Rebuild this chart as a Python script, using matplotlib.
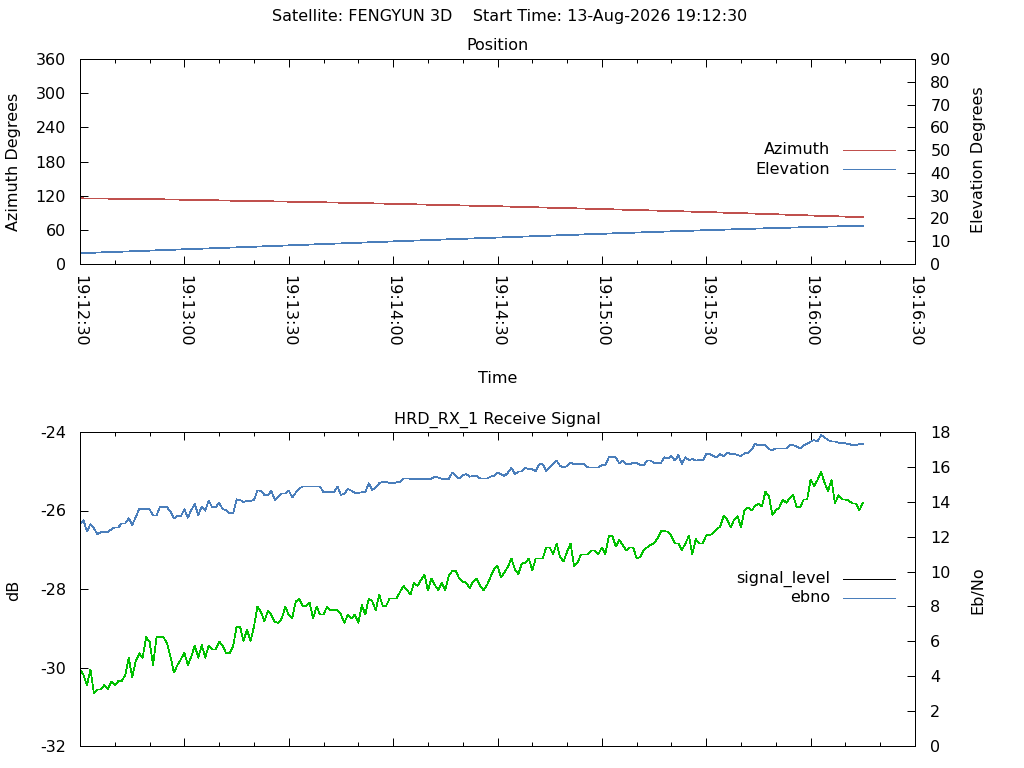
import datetime as dt
import matplotlib
matplotlib.use("Agg")
import matplotlib.pyplot as plt
import matplotlib.dates as mdates
from matplotlib.lines import Line2D

plt.rcParams['font.family'] = ['DejaVu Sans']
plt.rcParams['axes.unicode_minus'] = False

# ---------------- data ----------------
start_time = dt.datetime(2026, 8, 13, 19, 12, 30)

pos_seconds = [0, 15, 30, 45, 60, 75, 90, 105, 120, 135, 150, 165, 180, 195, 210, 225]
azimuth = [115.3, 114.4, 112.9, 111.1, 109.5, 107.7, 105.7, 103.5, 101.4, 98.9,
           96.5, 93.9, 91.2, 88.3, 85.2, 82.2]
elevation = [4.75, 5.59, 6.46, 7.30, 8.17, 9.05, 9.92, 10.79, 11.61, 12.45,
             13.27, 14.08, 14.84, 15.58, 16.22, 16.80]

# one sample per second from start time
signal_level = [
    -30.05, -30.19, -30.45, -30.05, -30.66, -30.56, -30.56, -30.45, -30.55, -30.36,
    -30.45, -30.35, -30.35, -30.19, -29.75, -30.25, -29.85, -29.64, -29.75, -29.23,
    -29.34, -29.94, -29.23, -29.23, -29.23, -29.38, -29.72, -30.13, -29.94, -29.79,
    -29.62, -29.94, -29.72, -29.44, -29.75, -29.43, -29.75, -29.44, -29.54, -29.54,
    -29.34, -29.44, -29.64, -29.64, -29.47, -28.96, -28.96, -29.32, -29.04, -29.32,
    -28.96, -28.45, -28.58, -28.83, -28.55, -28.66, -28.84, -28.86, -28.75, -28.45,
    -28.66, -28.75, -28.32, -28.25, -28.43, -28.43, -28.35, -28.75, -28.45, -28.65,
    -28.65, -28.45, -28.54, -28.54, -28.54, -28.65, -28.86, -28.65, -28.75, -28.65,
    -28.86, -28.41, -28.65, -28.24, -28.32, -28.54, -28.14, -28.43, -28.43, -28.24,
    -28.24, -28.24, -28.07, -27.92, -28.03, -28.14, -27.84, -27.92, -27.77, -27.63,
    -28.04, -27.73, -27.90, -28.03, -27.84, -28.03, -27.66, -27.54, -27.54, -27.73,
    -27.81, -27.84, -27.98, -27.81, -27.73, -27.92, -28.03, -27.90, -27.69, -27.50,
    -27.41, -27.70, -27.58, -27.43, -27.22, -27.50, -27.62, -27.35, -27.33, -27.22,
    -27.52, -27.22, -27.22, -27.22, -26.94, -26.94, -27.11, -26.84, -27.19, -27.30,
    -27.05, -26.84, -27.41, -27.33, -27.12, -27.12, -27.12, -27.02, -27.02, -27.11,
    -26.94, -27.11, -26.65, -26.65, -26.92, -26.75, -26.88, -27.02, -26.94, -26.94,
    -27.22, -27.19, -27.02, -26.94, -26.88, -26.84, -26.71, -26.53, -26.53, -26.54,
    -26.65, -26.84, -26.84, -27.01, -26.84, -26.65, -27.11, -26.73, -26.84, -26.84,
    -26.63, -26.63, -26.58, -26.48, -26.41, -26.14, -26.23, -26.43, -26.24, -26.14,
    -26.43, -25.99, -25.92, -26.00, -25.89, -25.82, -25.90, -25.52, -25.63, -26.11,
    -26.00, -25.92, -25.72, -25.80, -25.69, -25.61, -25.92, -25.92, -25.72, -25.72,
    -25.21, -25.38, -25.22, -25.01, -25.29, -25.50, -25.22, -25.82, -25.61, -25.72,
    -25.72, -25.75, -25.82, -25.82, -26.00, -25.80,
]

ebno = [
    12.71, 12.95, 12.29, 12.72, 12.48, 12.15, 12.25, 12.25, 12.25, 12.42,
    12.53, 12.53, 12.76, 12.76, 13.05, 12.67, 13.11, 13.57, 13.57, 13.57,
    13.57, 13.22, 13.22, 13.72, 13.69, 13.69, 13.43, 13.05, 13.18, 13.18,
    13.57, 13.09, 13.53, 13.87, 13.24, 13.72, 13.49, 14.06, 13.69, 13.69,
    13.95, 13.57, 13.53, 13.34, 13.34, 14.14, 14.10, 13.99, 14.06, 14.06,
    14.10, 14.65, 14.63, 14.39, 14.39, 14.63, 14.10, 14.29, 14.48, 14.48,
    14.64, 14.25, 14.52, 14.77, 14.87, 14.87, 14.87, 14.87, 14.87, 14.87,
    14.54, 14.54, 14.54, 14.54, 14.87, 14.39, 14.48, 14.73, 14.64, 14.52,
    14.52, 14.54, 14.54, 15.06, 14.67, 14.83, 15.06, 15.15, 15.15, 15.06,
    15.06, 15.11, 15.15, 15.34, 15.34, 15.32, 15.29, 15.32, 15.32, 15.32,
    15.32, 15.32, 15.44, 15.38, 15.32, 15.32, 15.32, 15.67, 15.48, 15.34,
    15.52, 15.59, 15.44, 15.48, 15.48, 15.34, 15.34, 15.34, 15.44, 15.48,
    15.67, 15.57, 15.48, 15.67, 15.95, 15.59, 15.73, 15.73, 15.95, 15.86,
    15.86, 15.76, 16.15, 16.15, 15.76, 15.95, 16.15, 16.36, 16.05, 15.97,
    16.05, 16.24, 16.15, 16.15, 16.15, 16.15, 15.97, 15.97, 15.97, 15.97,
    16.11, 16.11, 16.55, 16.55, 16.55, 16.20, 16.36, 16.15, 16.15, 16.24,
    16.24, 16.09, 16.09, 16.36, 16.36, 16.24, 16.24, 16.24, 16.55, 16.49,
    16.62, 16.36, 16.68, 16.17, 16.55, 16.39, 16.45, 16.36, 16.39, 16.36,
    16.74, 16.74, 16.62, 16.55, 16.74, 16.59, 16.83, 16.74, 16.74, 16.68,
    16.62, 16.78, 16.81, 16.97, 17.31, 17.25, 17.25, 17.25, 17.01, 16.97,
    17.06, 17.06, 17.06, 17.06, 17.25, 17.25, 17.16, 17.06, 17.25, 17.31,
    17.45, 17.54, 17.45, 17.83, 17.69, 17.54, 17.45, 17.45, 17.39, 17.35,
    17.35, 17.31, 17.25, 17.25, 17.31, 17.31,
]

az_ticks = [0, 60, 120, 180, 240, 300, 360]
el_ticks = [0, 10, 20, 30, 40, 50, 60, 70, 80, 90]
db_ticks = [-32, -30, -28, -26, -24]
ebno_ticks = [0, 2, 4, 6, 8, 10, 12, 14, 16, 18]

# ---------------- style ----------------
RED = '#c0504d'
BLUE = '#4a7ebb'
GREEN = '#00c000'
FS = 11.5
LW = 0.72      # one pixel at 100 dpi (frame, ticks)
DLW = 0.55     # data lines, drawn without antialiasing
W, H = 1024, 768

pos_time = [start_time + dt.timedelta(seconds=s) for s in pos_seconds]
sig_time = [start_time + dt.timedelta(seconds=i) for i in range(len(signal_level))]
x_end = start_time + dt.timedelta(seconds=240)

fig = plt.figure(figsize=(W / 100, H / 100), dpi=100)

ax1 = fig.add_axes([80 / W, 1 - 264 / H, 835 / W, 205 / H])
ax1r = ax1.twinx()
ax2 = fig.add_axes([80 / W, 1 - 746 / H, 835 / W, 314 / H])
ax2r = ax2.twinx()

for a in (ax1, ax1r, ax2, ax2r):
    for sp in a.spines.values():
        sp.set_linewidth(LW)
        sp.set_color('black')
        sp.set_antialiased(False)

# Position plot
ax1.plot(pos_time, azimuth, color=RED, lw=DLW, antialiased=False)
ax1r.plot(pos_time, elevation, color=BLUE, lw=DLW, antialiased=False)
ax1.set_ylim(0, 360)
ax1.set_yticks(az_ticks)
ax1r.set_ylim(0, 90)
ax1r.set_yticks(el_ticks)

# Signal plot
ax2.plot(sig_time, signal_level, color=GREEN, lw=DLW, antialiased=False)
ax2r.plot(sig_time, ebno, color=BLUE, lw=DLW, antialiased=False)
ax2.set_ylim(-32, -24)
ax2.set_yticks(db_ticks)
ax2r.set_ylim(0, 18)
ax2r.set_yticks(ebno_ticks)

for a in (ax1, ax2):
    a.set_xlim(start_time, x_end)
    a.xaxis.set_major_locator(mdates.SecondLocator(bysecond=[0, 30]))
    a.xaxis.set_minor_locator(mdates.SecondLocator(bysecond=[0, 10, 20, 30, 40, 50]))
    a.xaxis.set_major_formatter(mdates.DateFormatter('%H:%M:%S'))
    a.tick_params(axis='x', which='major', direction='in', length=6, width=LW,
                  top=True, bottom=True, labelsize=FS, pad=8)
    a.tick_params(axis='x', which='minor', direction='in', length=3, width=LW,
                  top=True, bottom=True)
    a.tick_params(axis='y', which='major', direction='in', length=6, width=LW,
                  left=True, right=False, labelsize=FS, pad=10)

for a in (ax1r, ax2r):
    a.tick_params(axis='y', which='major', direction='in', length=6, width=LW,
                  left=False, right=True, labelsize=FS, pad=11)

ax1.tick_params(axis='x', labelrotation=-90)
ax2.tick_params(axis='x', labelbottom=False)

# Titles and labels
fig.text(510 / W, 1 - 17 / H, 'Satellite: FENGYUN 3D    Start Time: 13-Aug-2026 19:12:30',
         ha='center', va='center', fontsize=FS)
fig.text(497.5 / W, 1 - 46 / H, 'Position', ha='center', va='center', fontsize=FS)
fig.text(497.5 / W, 1 - 420 / H, 'HRD_RX_1 Receive Signal', ha='center', va='center', fontsize=FS)
fig.text(497.5 / W, 1 - 379 / H, 'Time', ha='center', va='center', fontsize=FS)
fig.text(14 / W, 1 - 162 / H, 'Azimuth Degrees', ha='center', va='center', rotation=90, fontsize=FS)
fig.text(978 / W, 1 - 160 / H, 'Elevation Degrees', ha='center', va='center', rotation=90, fontsize=FS)
fig.text(14 / W, 1 - 590 / H, 'dB', ha='center', va='center', rotation=90, fontsize=FS)
fig.text(978 / W, 1 - 590 / H, 'Eb/No', ha='center', va='center', rotation=90, fontsize=FS)

# Legends (gnuplot style: text right-aligned left of the sample)
def key(ax, entries, y_px_list, ax_top_px, ax_h_px):
    for (label, color), y_px in zip(entries, y_px_list):
        yf = 1 - (y_px - ax_top_px) / ax_h_px
        ax.text((830 - 80) / 835, yf, label, transform=ax.transAxes,
                ha='right', va='center', fontsize=FS)
        ax.add_line(Line2D([(843 - 80) / 835, (895 - 80) / 835], [yf, yf],
                           transform=ax.transAxes, color=color, lw=DLW,
                           antialiased=False, clip_on=False))

key(ax1r, [('Azimuth', RED), ('Elevation', BLUE)], [150, 169], 59, 205)
key(ax2r, [('signal_level', 'black'), ('ebno', BLUE)], [579, 598], 432, 314)

fig.savefig('out.png', dpi=100)
